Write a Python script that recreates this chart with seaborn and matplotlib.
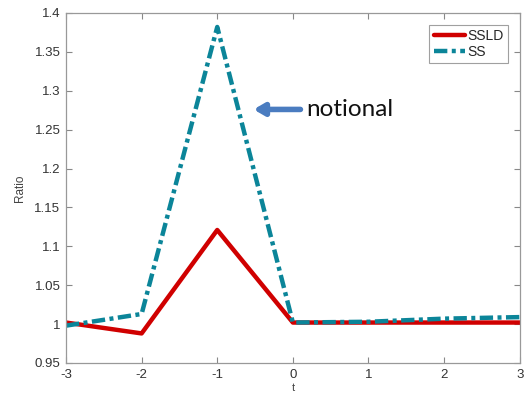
import matplotlib
matplotlib.use("Agg")
import matplotlib.pyplot as plt
import seaborn as sns
import pandas as pd

t = [-3, -2, -1, 0, 1, 2, 3]
ssld = [1.002, 0.988, 1.121, 1.002, 1.002, 1.002, 1.002]
ss = [0.998, 1.013, 1.382, 1.002, 1.003, 1.007, 1.009]
series_names = ["SSLD", "SS"]
xticks = [-3, -2, -1, 0, 1, 2, 3]
yticks = [0.95, 1.0, 1.05, 1.1, 1.15, 1.2, 1.25, 1.3, 1.35, 1.4]
ytick_labels = ["0.95", "1", "1.05", "1.1", "1.15", "1.2", "1.25", "1.3", "1.35", "1.4"]

df = pd.DataFrame({
    "t": t + t,
    "Ratio": ssld + ss,
    "series": [series_names[0]] * len(t) + [series_names[1]] * len(t),
})

sns.set_style("white")
plt.rcParams['font.family'] = ['Liberation Sans', 'DejaVu Sans']

fig = plt.figure(figsize=(5.25, 4.01), dpi=100)
ax = fig.add_axes([0.1257, 0.0948, 0.8643, 0.8728])

palette = {"SSLD": "#D00000", "SS": "#0B8599"}
dashes = {"SSLD": "", "SS": (3.0, 1.0, 0.9, 1.0)}
sns.lineplot(data=df, x="t", y="Ratio", hue="series", style="series",
             palette=palette, dashes=dashes, linewidth=3.2, ax=ax,
             hue_order=series_names, style_order=series_names)

ax.set_xlim(-3, 3)
ax.set_ylim(0.95, 1.4)
ax.set_xticks(xticks)
ax.set_xticklabels([str(v) for v in xticks])
ax.set_yticks(yticks)
ax.set_yticklabels(ytick_labels)
ax.tick_params(axis='both', direction='in', length=4, color='#888888',
               labelsize=9.5, labelcolor='#333333', top=True, right=True,
               bottom=True, left=True, width=0.8, pad=4)
for s in ax.spines.values():
    s.set_color('#999999')
    s.set_linewidth(0.9)
ax.set_xlabel("t", fontsize=8, color='#444444', labelpad=2)
ax.set_ylabel("Ratio", fontsize=8.5, color='#444444', labelpad=6)

leg = ax.legend(loc='upper right', fontsize=10, frameon=True, fancybox=False,
                handlelength=2.3, handletextpad=0.15, borderpad=0.3,
                labelspacing=0.15, borderaxespad=0,
                bbox_to_anchor=(0.974, 0.966))
leg.get_frame().set_edgecolor('#888888')
leg.get_frame().set_linewidth(0.8)
for h in leg.get_lines():
    h.set_linewidth(3.2)

ax.annotate("", xy=(-0.52, 1.276), xytext=(0.10, 1.276),
            arrowprops=dict(arrowstyle="-|>,head_length=0.6,head_width=0.35",
                            color="#4A7CC0", lw=4, shrinkA=0, shrinkB=0))
ax.text(0.18, 1.276, "notional", fontsize=17.5, family=['Lato', 'DejaVu Sans'],
        color='#111111', va='center', ha='left')

fig.savefig("out.png", dpi=100)
